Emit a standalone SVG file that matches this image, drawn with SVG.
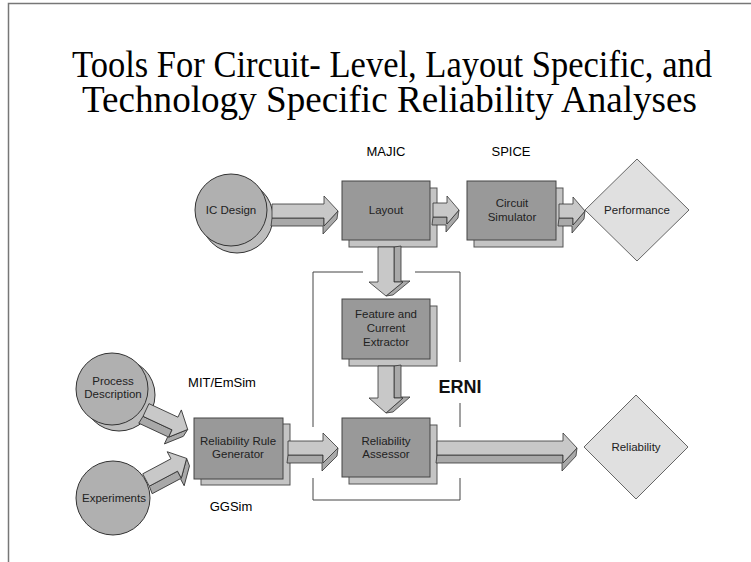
<svg xmlns="http://www.w3.org/2000/svg" width="751" height="562" viewBox="0 0 751 562">
<style>
.title{font-family:"Liberation Serif","Times New Roman",serif;font-size:38px;fill:#000}
.lbl{font-family:"Liberation Sans",Arial,sans-serif;font-size:11.5px;fill:#222;text-anchor:middle}
.tool{font-family:"Liberation Sans",Arial,sans-serif;font-size:13px;fill:#000;text-anchor:middle}
.erni{font-family:"Liberation Sans",Arial,sans-serif;font-size:18px;font-weight:bold;fill:#111;text-anchor:middle}
.box{fill:#999;stroke:#444;stroke-width:1}
.shadow{fill:#c4c4c4;stroke:#555;stroke-width:1}
.circ{fill:#b0b0b0;stroke:#333;stroke-width:1}
.csh{fill:#bdbdbd;stroke:#333;stroke-width:1}
.dia{fill:#e0e0e0;stroke:#666;stroke-width:1}
.af{fill:#c8c8c8;stroke:#333;stroke-width:0.8;stroke-linejoin:round}
.as{fill:#a9a9a9;stroke:#333;stroke-width:0.8;stroke-linejoin:round}
.brk{fill:none;stroke:#444;stroke-width:1}
</style>
<path d="M8.5,562 V3.5 H751" fill="none" stroke="#777" stroke-width="1.5"/>
<g id="title">
<text class="title" x="72" y="77" textLength="640" lengthAdjust="spacingAndGlyphs">Tools For Circuit- Level, Layout Specific, and</text>
<text class="title" x="82" y="112" textLength="615" lengthAdjust="spacingAndGlyphs">Technology Specific Reliability Analyses</text>
</g>
<g id="labels">
<text class="tool" x="386" y="156">MAJIC</text>
<text class="tool" x="511" y="156">SPICE</text>
<text class="tool" x="222" y="387">MIT/EmSim</text>
<text class="tool" x="231" y="511">GGSim</text>
</g>
<g id="erni">
<path class="brk" d="M313,272 V427 M313,478 V500 H460 V478 M313,272 H363 M415,272 H460 V362 M460,403 V427"/>
<text class="erni" x="460" y="393">ERNI</text>
</g>
<g id="ic-design">
<circle class="csh" cx="237" cy="217" r="36"/>
<circle class="circ" cx="231" cy="210" r="36"/>
<text class="lbl" x="231" y="214">IC Design</text>
</g>
<g id="layout">
<rect class="shadow" x="349" y="188" width="88" height="59"/>
<rect class="box" x="342" y="181" width="88" height="59"/>
<text class="lbl" x="386" y="214">Layout</text>
</g>
<g id="circuit-simulator">
<rect class="shadow" x="474" y="188" width="89" height="59"/>
<rect class="box" x="467" y="181" width="89" height="59"/>
<text class="lbl" x="512" y="207">Circuit</text>
<text class="lbl" x="512" y="221">Simulator</text>
</g>
<g id="performance">
<polygon class="dia" points="637,159 689,210 637,261 585,210"/>
<text class="lbl" x="637" y="214">Performance</text>
</g>
<g id="feature-extractor">
<rect class="shadow" x="349" y="306" width="88" height="60"/>
<rect class="box" x="342" y="299" width="88" height="60"/>
<text class="lbl" x="386" y="318">Feature and</text>
<text class="lbl" x="386" y="332">Current</text>
<text class="lbl" x="386" y="346">Extractor</text>
</g>
<g id="reliability-assessor">
<rect class="shadow" x="349" y="425" width="88" height="59"/>
<rect class="box" x="342" y="418" width="88" height="59"/>
<text class="lbl" x="386" y="445">Reliability</text>
<text class="lbl" x="386" y="458">Assessor</text>
</g>
<g id="reliability">
<polygon class="dia" points="636,395 688,447 636,499 584,447"/>
<text class="lbl" x="636" y="451">Reliability</text>
</g>
<g id="process-description">
<circle class="csh" cx="119" cy="395" r="36"/>
<circle class="circ" cx="112" cy="389" r="36"/>
<text class="lbl" x="113" y="385">Process</text>
<text class="lbl" x="113" y="398">Description</text>
</g>
<g id="experiments">
<circle class="circ" cx="113" cy="498" r="37"/>
<text class="lbl" x="114" y="502">Experiments</text>
</g>
<g id="rule-generator">
<rect class="shadow" x="201" y="424" width="89" height="61"/>
<rect class="box" x="194" y="418" width="89" height="61"/>
<text class="lbl" x="238" y="445">Reliability Rule</text>
<text class="lbl" x="238" y="458">Generator</text>
</g>
<g id="connectors">
<g transform="translate(272,211)">
<path class="as" d="M0,7 H52 V15 L66,0 L65,8 L51,23 V15 H-1 Z"/>
<path class="af" d="M0,-7 H52 V-15 L66,0 L52,15 V7 H0 Z"/>
</g>
<g transform="translate(433,210)">
<path class="as" d="M0,7 H14 V14 L26,0 L25,8 L13,22 V15 H-1 Z"/>
<path class="af" d="M0,-7 H14 V-14 L26,0 L14,14 V7 H0 Z"/>
</g>
<g transform="translate(559,211)">
<path class="as" d="M0,7 H14 V14 L26,0 L25,8 L13,22 V15 H-1 Z"/>
<path class="af" d="M0,-7 H14 V-14 L26,0 L14,14 V7 H0 Z"/>
</g>
<g transform="matrix(0,1,1,0,386,247)">
<path class="as" d="M0,8 H35 V17 L49,0 L48,7 L34,24 V15 H-1 Z"/>
<path class="af" d="M0,-8 H35 V-17 L49,0 L35,17 V8 H0 Z"/>
</g>
<g transform="matrix(0,1,1,0,386,366)">
<path class="as" d="M0,8 H32 V17 L47,0 L46,7 L31,24 V15 H-1 Z"/>
<path class="af" d="M0,-8 H32 V-17 L47,0 L32,17 V8 H0 Z"/>
</g>
<g transform="translate(437,448)">
<path class="as" d="M0,7 H126 V15 L140,0 L139,8 L125,23 V15 H-1 Z"/>
<path class="af" d="M0,-7 H126 V-15 L140,0 L126,15 V7 H0 Z"/>
</g>
<g transform="translate(288,448)">
<path class="as" d="M0,7 H35 V15 L50,0 L49,8 L34,23 V15 H-1 Z"/>
<path class="af" d="M0,-7 H35 V-15 L50,0 L35,15 V7 H0 Z"/>
</g>
<g transform="translate(146,410) rotate(25)">
<path class="as" d="M0,7 H32 V15 L46,0 L45,8 L31,23 V15 H-1 Z"/>
<path class="af" d="M0,-7 H32 V-15 L46,0 L32,15 V7 H0 Z"/>
</g>
<g transform="translate(146,480) rotate(-28)">
<path class="as" d="M0,7 H32 V15 L46,0 L45,8 L31,23 V15 H-1 Z"/>
<path class="af" d="M0,-7 H32 V-15 L46,0 L32,15 V7 H0 Z"/>
</g>
</g>
</svg>
